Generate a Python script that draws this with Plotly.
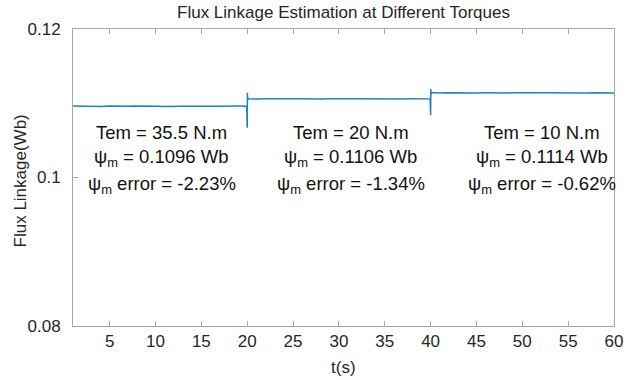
import plotly.graph_objects as go

# Estimated flux linkage (Wb) sampled over time (s) for the three torque steps
t_seg1 = [1.0, 2.0, 3.0, 4.0, 5.0, 6.0, 7.0, 8.0, 9.0, 10.0, 11.0, 12.0, 13.0, 14.0,
          15.0, 16.0, 17.0, 18.0, 19.0, 19.95]
psi_seg1 = [0.10962, 0.10958, 0.10961, 0.10957, 0.10963, 0.10959, 0.10960, 0.10964, 0.10958, 0.10961,
            0.10957, 0.10962, 0.10960, 0.10958, 0.10963, 0.10959, 0.10961, 0.10957, 0.10962, 0.10960]

t_step1 = [20.0, 20.02, 20.05, 20.1, 20.2]
psi_step1 = [0.1067, 0.1114, 0.1104, 0.1107, 0.1106]

t_seg2 = [20.5, 21.0, 22.0, 23.0, 24.0, 25.0, 26.0, 27.0, 28.0, 29.0, 30.0, 31.0, 32.0, 33.0,
          34.0, 35.0, 36.0, 37.0, 38.0, 39.0, 39.95]
psi_seg2 = [0.11062, 0.11058, 0.11061, 0.11057, 0.11063, 0.11059, 0.11060, 0.11064, 0.11058, 0.11061,
            0.11057, 0.11062, 0.11060, 0.11058, 0.11063, 0.11059, 0.11061, 0.11057, 0.11062, 0.11060, 0.11059]

t_step2 = [40.0, 40.02, 40.05, 40.1, 40.2]
psi_step2 = [0.1084, 0.1119, 0.1112, 0.1115, 0.1114]

t_seg3 = [40.5, 41.0, 42.0, 43.0, 44.0, 45.0, 46.0, 47.0, 48.0, 49.0, 50.0, 51.0, 52.0, 53.0,
          54.0, 55.0, 56.0, 57.0, 58.0, 59.0, 60.0]
psi_seg3 = [0.11142, 0.11138, 0.11141, 0.11137, 0.11143, 0.11139, 0.11140, 0.11144, 0.11138, 0.11141,
            0.11137, 0.11142, 0.11140, 0.11138, 0.11143, 0.11139, 0.11141, 0.11137, 0.11142, 0.11140, 0.11139]

t_all = t_seg1 + t_step1 + t_seg2 + t_step2 + t_seg3
psi_all = psi_seg1 + psi_step1 + psi_seg2 + psi_step2 + psi_seg3

# Annotation blocks: torque, estimated flux, error
block_x = [10.7, 31.3, 52.1]
torque_text = ["35.5", "20", "10"]
flux_text = ["0.1096", "0.1106", "0.1114"]
error_text = ["-2.23", "-1.34", "-0.62"]
line_y = [0.10605, 0.10265, 0.09895]

x_ticks = [5, 10, 15, 20, 25, 30, 35, 40, 45, 50, 55, 60]
y_ticks = [0.08, 0.1, 0.12]
y_tick_labels = ["0.08", "0.1", "0.12"]

font_family = "Liberation Sans, Arial, sans-serif"
text_color = "#262626"
axis_color = "#a6a6a6"

fig = go.Figure()
fig.add_trace(go.Scatter(
    x=t_all, y=psi_all, mode="lines",
    line=dict(color="#1f7fc6", width=1.5),
    showlegend=False, hoverinfo="skip",
))

annotations = []
for bx, tq, fl, er in zip(block_x, torque_text, flux_text, error_text):
    rows = [
        f"Tem = {tq} N.m",
        f"ψ<sub>m</sub> = {fl} Wb",
        f"ψ<sub>m</sub> error = {er}%",
    ]
    for row, ly in zip(rows, line_y):
        annotations.append(dict(
            x=bx, y=ly, xref="x", yref="y", text=row, showarrow=False,
            xanchor="center", yanchor="middle",
            font=dict(family=font_family, size=18.5, color="#111111"),
        ))

# Axis titles placed in paper coordinates
annotations.append(dict(
    x=0.5, y=-0.141, xref="paper", yref="paper", text="t(s)", showarrow=False,
    xanchor="center", yanchor="middle",
    font=dict(family=font_family, size=17, color=text_color),
))
annotations.append(dict(
    x=-0.098, y=0.49, xref="paper", yref="paper", text="Flux Linkage(Wb)", showarrow=False,
    xanchor="center", yanchor="middle", textangle=-90,
    font=dict(family=font_family, size=17, color=text_color),
))

fig.update_layout(
    width=639, height=380,
    margin=dict(l=73, r=25, t=29, b=54),
    paper_bgcolor="white", plot_bgcolor="white",
    title=dict(
        text="Flux Linkage Estimation at Different Torques",
        x=0.5, xref="paper", y=1 - 12 / 380, yanchor="middle",
        font=dict(family=font_family, size=17, color=text_color),
    ),
    font=dict(family=font_family, size=17, color=text_color),
    annotations=annotations,
)

fig.update_xaxes(
    range=[1, 60], tickvals=x_ticks, ticks="inside", ticklen=5, tickcolor=axis_color,
    showline=True, linecolor=axis_color, linewidth=1, mirror="ticks",
    showgrid=False, zeroline=False, automargin=False,
    tickfont=dict(size=17, color=text_color),
)
fig.update_yaxes(
    range=[0.08, 0.12], tickvals=y_ticks, ticktext=y_tick_labels,
    ticks="inside", ticklen=5, tickcolor=axis_color,
    showline=True, linecolor=axis_color, linewidth=1, mirror="ticks",
    showgrid=False, zeroline=False, ticklabelstandoff=8, automargin=False,
    tickfont=dict(size=17, color=text_color),
)

fig.write_html("out.html")
